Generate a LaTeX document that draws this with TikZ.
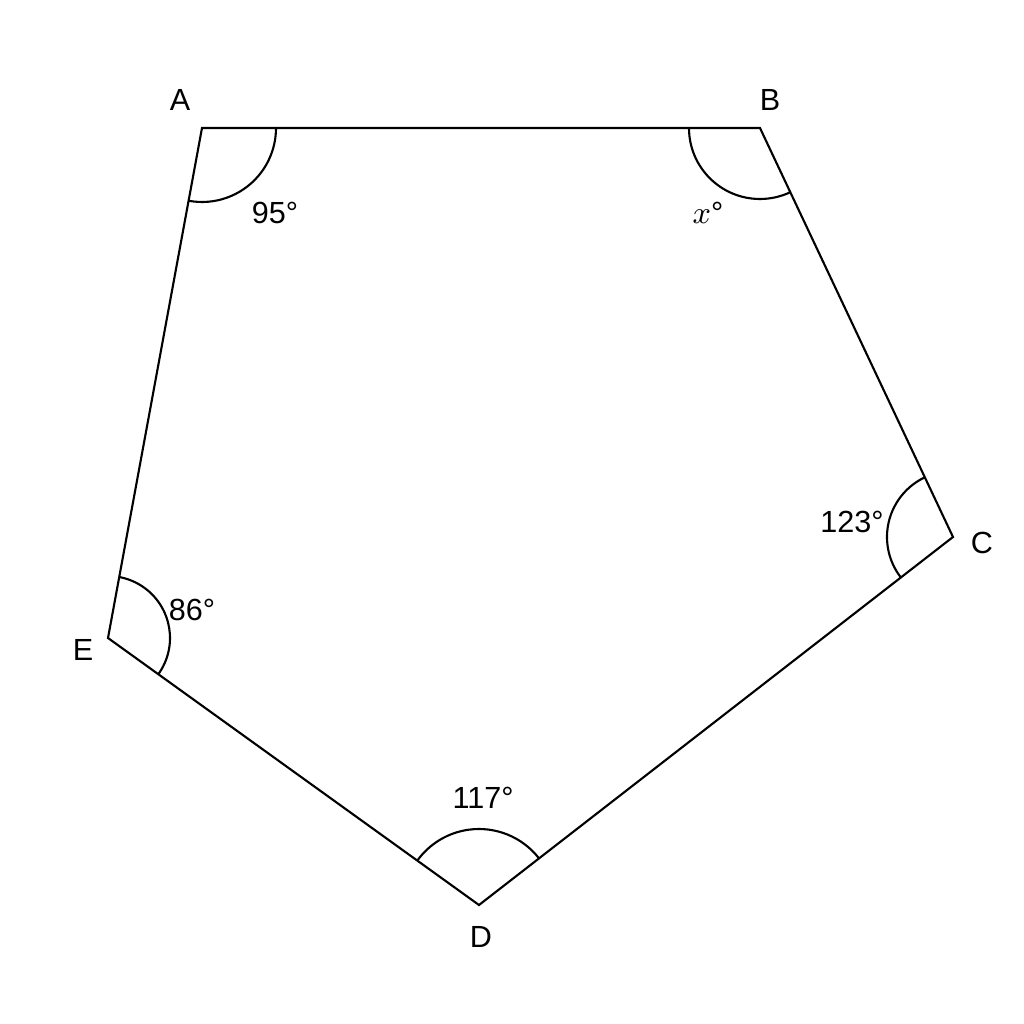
\documentclass[tikz,border=0pt]{standalone}
\usepackage{fontspec}
\setmainfont{Liberation Sans}
\usetikzlibrary{angles, positioning, calc}

\begin{document}
\begin{tikzpicture}[
    edge/.style={draw, black, line width=0.6pt},
    vlabel/.style={font=\fontsize{8.7}{10}\selectfont, inner sep=0pt},
    alabel/.style={font=\fontsize{8.7}{10}\selectfont, inner sep=0pt},
    arcmark/.style={draw, black, line width=0.6pt}
  ]
    \useasboundingbox (0,0) rectangle (10.24,10.24);

    % --- Vertices of the pentagon ---
    \coordinate (A) at (2.02, 8.96);
    \coordinate (B) at (7.60, 8.96);
    \coordinate (C) at (9.53, 4.87);
    \coordinate (D) at (4.79, 1.19);
    \coordinate (E) at (1.08, 3.86);

    \draw[edge] (A) -- (B) -- (C) -- (D) -- (E) -- cycle;

    % --- Vertex names ---
    \node[vlabel] (nameA) at (1.80, 9.24) {A};
    \node[vlabel] (nameB) at (7.70, 9.24) {B};
    \node[vlabel] (nameC) at (9.82, 4.81) {C};
    \node[vlabel] (nameD) at (4.81, 0.87) {D};
    \node[vlabel] (nameE) at (0.83, 3.74) {E};

    % --- Angle marks ---
    \pic[arcmark, angle radius=0.74cm] {angle = E--A--B};
    \pic[arcmark, angle radius=0.71cm] {angle = A--B--C};
    \pic[arcmark, angle radius=0.66cm] {angle = B--C--D};
    \pic[arcmark, angle radius=0.76cm] {angle = C--D--E};
    \pic[arcmark, angle radius=0.62cm] {angle = D--E--A};

    % --- Angle values ---
    \node[alabel] (angA) at (2.75, 8.11) {95°};
    \node[alabel] (angB) at (7.08, 8.11) {$x$°};
    \node[alabel] (angC) at (8.52, 5.02) {123°};
    \node[alabel] (angD) at (4.83, 2.26) {117°};
    \node[alabel] (angE) at (1.92, 4.14) {86°};
\end{tikzpicture}
\end{document}
